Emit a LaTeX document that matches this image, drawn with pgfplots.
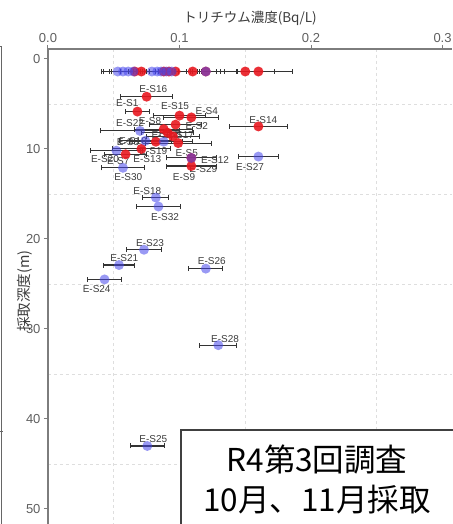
\documentclass[border=0pt]{standalone}
\usepackage{pgfplots}
\pgfplotsset{compat=1.18}
\usepackage{pgfplotstable}
\usepackage{fontspec}
\setmainfont{Liberation Sans}
\newfontfamily\cjk{Noto Sans CJK JP}
\definecolor{axgray}{RGB}{125,125,125}
\definecolor{tickgray}{RGB}{95,95,95}
\definecolor{gridgray}{RGB}{222,222,222}
\definecolor{labgray}{RGB}{60,60,60}
\definecolor{ptred}{RGB}{232,24,32}
\definecolor{ptblue}{RGB}{70,70,235}

% red series
\pgfplotstableread{
x     y    e
0.066 1.4 0.018
0.071 1.4 0.016
0.088 1.4 0.020
0.092 1.4 0.022
0.097 1.4 0.020
0.110 1.4 0.021
0.120 1.4 0.024
0.150 1.4 0.022
0.160 1.4 0.026
0.075 4.2 0.020
0.068 5.85 0.009
0.100 6.3 0.020
0.109 6.5 0.021
0.160 7.5 0.022
0.097 7.3 0.020
0.088 7.8 0.022
0.091 8.2 0.020
0.095 8.6 0.020
0.099 9.35 0.025
0.082 9.2 0.020
0.071 10.0 0.022
0.059 10.6 0.016
0.109 11.0 0.019
0.109 11.9 0.019
}\redtab

% blue series
\pgfplotstableread{
x      y    e
0.053  1.4 0.012
0.057  1.4 0.015
0.061  1.4 0.014
0.065  1.4 0.017
0.079  1.4 0.018
0.083  1.4 0.016
0.086  1.4 0.019
0.090  1.4 0.020
0.094  1.4 0.021
0.120  1.4 0.023
0.070  8.0 0.030
0.088  9.2 0.022
0.074  9.1 0.020
0.052  10.2 0.020
0.109  11.0 0.019
0.057  12.1 0.016
0.160  10.85 0.015
0.082  15.4 0.010
0.084  16.4 0.017
0.073  21.2 0.013
0.054  22.9 0.012
0.043  24.5 0.013
0.120  23.3 0.013
0.1295 31.8 0.014
0.0755 43.0 0.013
}\bluetab

\begin{document}
\begin{tikzpicture}
\tikzset{lab/.style={font=\fontsize{10}{10}\selectfont, text=labgray, inner sep=0pt}}
\begin{axis}[
  at={(0,0)}, anchor=south west,
  scale only axis, width=404pt, height=475pt,
  xmin=0, xmax=0.3072, ymin=-1.1, ymax=51.67, y dir=reverse,
  axis x line=top, axis y line=left,
  axis line style={-, draw=axgray, line width=1.6pt},
  xtick={0,0.1,0.2,0.3}, xticklabels={0.0,0.1,0.2,0.3},
  ytick={0,10,20,30,40,50},
  minor xtick={0.05,0.15,0.25}, minor ytick={5,15,25,35,45},
  grid=minor, minor grid style={dashed, gridgray, line width=0.7pt},
  major tick length=4pt, minor tick length=0pt, tick align=outside,
  tick style={draw=axgray, line width=1pt},
  ticklabel style={font=\fontsize{13}{13}\selectfont, text=tickgray},
  /pgf/number format/assume math mode=true,
  xticklabel style={yshift=-1pt},
  xlabel={\cjk トリチウム濃度(Bq/L)},
  ylabel={\cjk 採取深度(m)},
  every axis x label/.style={at={(axis description cs:0.5,1)}, anchor=center, yshift=31pt, font=\fontsize{13.5}{14}\selectfont, text=labgray},
  every axis y label/.style={at={(axis description cs:-0.057,0.49)}, anchor=center, rotate=90, font=\fontsize{14.5}{15}\selectfont, text=labgray},
  error bars/error mark=|,
  error bars/error bar style={line width=1.1pt, draw=black!80},
  error bars/error mark options={line width=1pt, mark size=2.5pt, draw=black!80},
]
\addplot[only marks, mark=*, mark size=5pt, mark options={draw opacity=0, fill=ptred, fill opacity=0.9},
  error bars/.cd, x dir=both, x explicit]
  table[x=x, y=y, x error=e] {\redtab};
\addplot[only marks, mark=*, mark size=5pt, mark options={draw opacity=0, fill=ptblue, fill opacity=0.55},
  error bars/.cd, x dir=both, x explicit]
  table[x=x, y=y, x error=e] {\bluetab};

\node[lab] at (axis cs:0.0801,3.33) {E-S16};
\node[lab] at (axis cs:0.0603,4.92) {E-S1};
\node[lab] at (axis cs:0.0966,5.22) {E-S15};
\node[lab] at (axis cs:0.1207,5.78) {E-S4};
\node[lab] at (axis cs:0.1637,6.78) {E-S14};
\node[lab] at (axis cs:0.0776,6.89) {E-S8};
\node[lab] at (axis cs:0.1131,7.41) {E-S2};
\node[lab] at (axis cs:0.0624,7.14) {E-S22};
\node[lab] at (axis cs:0.1004,8.44) {E-S17};
\node[lab] at (axis cs:0.0890,8.44) {E-S11};
\node[lab] at (axis cs:0.0928,8.33) {E-S6};
\node[lab] at (axis cs:0.0608,9.19) {E-S3};
\node[lab] at (axis cs:0.0646,9.11) {E-S10};
\node[lab] at (axis cs:0.0801,10.19) {E-S19};
\node[lab] at (axis cs:0.1055,10.41) {E-S5};
\node[lab] at (axis cs:0.0433,11.14) {E-S20};
\node[lab] at (axis cs:0.0535,11.30) {E-S7};
\node[lab] at (axis cs:0.0755,11.14) {E-S13};
\node[lab] at (axis cs:0.1270,11.22) {E-S12};
\node[lab] at (axis cs:0.1181,12.26) {E-S29};
\node[lab] at (axis cs:0.1034,13.08) {E-S9};
\node[lab] at (axis cs:0.1536,12.03) {E-S27};
\node[lab] at (axis cs:0.0611,13.08) {E-S30};
\node[lab] at (axis cs:0.0755,14.63) {E-S18};
\node[lab] at (axis cs:0.0890,17.52) {E-S32};
\node[lab] at (axis cs:0.0776,20.41) {E-S23};
\node[lab] at (axis cs:0.0580,22.14) {E-S21};
\node[lab] at (axis cs:0.0370,25.59) {E-S24};
\node[lab] at (axis cs:0.1245,22.41) {E-S26};
\node[lab] at (axis cs:0.1346,31.14) {E-S28};
\node[lab] at (axis cs:0.0801,42.22) {E-S25};
\end{axis}
% annotation box
\draw[draw=black!75, line width=1.2pt, fill=white] (133pt,94pt) rectangle (412pt,-6pt);
\node[font=\cjk\fontsize{31.5}{32}\selectfont, anchor=center] at (269pt,64pt) {R4第3回調査};
\node[font=\cjk\fontsize{31.5}{32}\selectfont, anchor=center] at (269pt,24pt) {10月、11月採取};
% frame of neighbouring panel
\draw[draw=black!60, line width=1pt] (-52pt,477pt) -- (-46pt,477pt) -- (-46pt,-6pt);
\draw[draw=black!60, line width=1pt] (-52pt,92pt) -- (-45pt,92pt);
\pgfresetboundingbox
\path[use as bounding box] (-48pt,0pt) rectangle (404pt,524pt);
\end{tikzpicture}
\end{document}
